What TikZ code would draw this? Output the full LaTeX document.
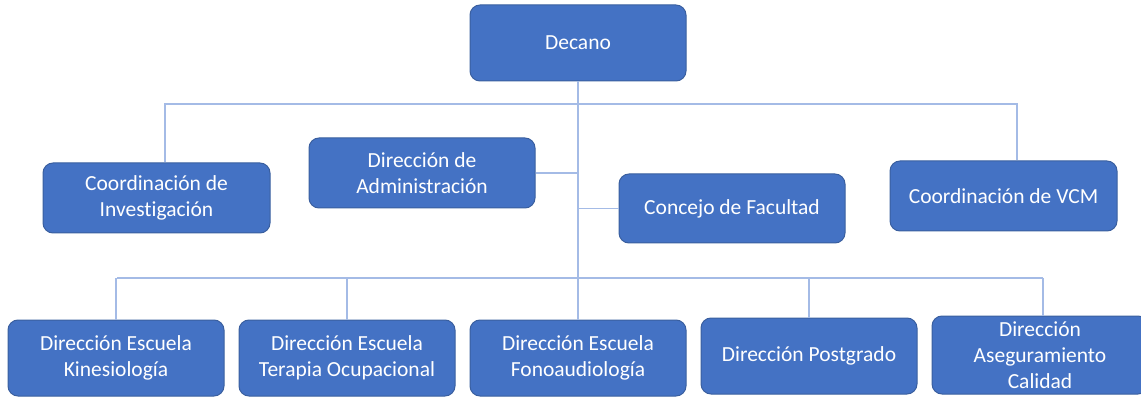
\documentclass[tikz,border=0pt]{standalone}
\usepackage{fontspec}
\setmainfont[Ligatures={NoCommon}]{Carlito}
\definecolor{boxfill}{HTML}{4472C4}
\definecolor{boxline}{HTML}{3A5F9F}
\definecolor{connline}{HTML}{A4BBE6}
\tikzset{
  orgbox/.style={rectangle, rounded corners=10pt, fill=boxfill, draw=boxline, line width=1pt,
    text=white, align=center, inner sep=0pt,
    font=\fontsize{21.5}{26}\selectfont},
  conn/.style={draw=connline, line width=1.1pt}
}
\begin{document}
\begin{tikzpicture}[x=1pt,y=-1pt]
\useasboundingbox (0,0) rectangle (1141,398);
% nodes
\node[orgbox, minimum width=216pt, minimum height=76pt] (dec) at (578,43) {Decano};
\node[orgbox, minimum width=227pt, minimum height=70pt] (inv) at (156.5,198) {Coordinación de\\Investigación};
\node[orgbox, minimum width=226pt, minimum height=70pt] (adm) at (422,173) {Dirección de\\Administración};
\node[orgbox, minimum width=226pt, minimum height=69pt] (con) at (732,208.5) {Concejo de Facultad};
\node[orgbox, minimum width=227pt, minimum height=70pt] (vcm) at (1003.5,196) {Coordinación de VCM};
\node[orgbox, minimum width=216pt, minimum height=76pt] (kin) at (116,358) {Dirección Escuela\\Kinesiología};
\node[orgbox, minimum width=216pt, minimum height=76pt] (ter) at (347,358) {Dirección Escuela\\Terapia Ocupacional};
\node[orgbox, minimum width=216pt, minimum height=76pt] (fon) at (578,358) {Dirección Escuela\\Fonoaudiología};
\node[orgbox, minimum width=216pt, minimum height=76pt] (pos) at (809,356) {Dirección Postgrado};
\node[orgbox, minimum width=216pt, minimum height=78pt] (cal) at (1040,355) {Dirección\\Aseguramiento\\Calidad};
% connectors
\coordinate (tl) at (165,104);
\coordinate (tr) at (1017,104);
\coordinate (bl) at (117,278);
\coordinate (br) at (1043,278);
\draw[conn] (dec.south) -- (dec.south |- bl);
\draw[conn] (tl |- inv.north) -- (tl) -- (tr) -- (tr |- vcm.north);
\draw[conn] (adm.east) -- (adm.east -| dec.south);
\draw[conn] (con.west) -- (con.west -| dec.south);
\draw[conn] (bl) -- (br);
\foreach \n in {kin,ter,fon,pos}
  \draw[conn] (\n.north) -- (\n.north |- bl);
\draw[conn] (br) -- (br |- cal.north);
\end{tikzpicture}
\end{document}
